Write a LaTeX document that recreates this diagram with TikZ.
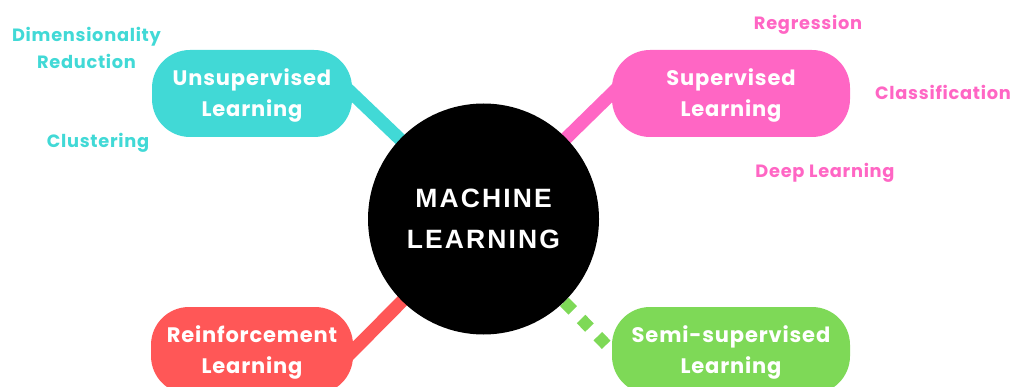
\documentclass[tikz,border=0pt]{standalone}
\usepackage{fontspec}
\newfontfamily\lblfont[LetterSpace=4]{Poppins}
\newfontfamily\mlfont[LetterSpace=8]{Liberation Sans}
\usetikzlibrary{backgrounds}
\definecolor{cyanml}{HTML}{41D9D6}
\definecolor{pinkml}{HTML}{FF66C4}
\definecolor{redml}{HTML}{FF5757}
\definecolor{greenml}{HTML}{7ED957}
\tikzset{
  box/.style={rounded corners=38pt, minimum height=87pt, inner sep=0pt},
  boxtext/.style={inner sep=0pt, anchor=base, text=white, align=center,
    font=\lblfont\bfseries\fontsize{21}{31}\selectfont},
  sub/.style={inner sep=0pt, anchor=base, font=\lblfont\bfseries\fontsize{17.8}{20}\selectfont},
  link/.style={line width=13pt, shorten <=-20pt},
  dotlink/.style={line width=12pt, dash pattern=on 12pt off 12pt, dash phase=16pt},
  core/.style={circle, fill=black, minimum size=231pt, inner sep=0pt, text=white,
    align=center, font=\mlfont\bfseries\fontsize{26.5}{41}\selectfont}
}
\begin{document}
\begin{tikzpicture}[x=1pt,y=-1pt]
\useasboundingbox (0,0) rectangle (1011,387);
\node[core] (ml) at (483.5,219) {MACHINE\\LEARNING};
\node[box, fill=cyanml, minimum width=200pt] (unsup) at (252,93.5) {};
\node[box, fill=pinkml, minimum width=238pt] (sup) at (731,93.5) {};
\node[box, fill=redml, minimum width=202pt] (rein) at (252,350.5) {};
\node[box, fill=greenml, minimum width=238pt] (semi) at (731,350.5) {};
\begin{scope}[on background layer]
  \draw[link, draw=cyanml] (unsup.east) -- (ml.center);
  \draw[link, draw=pinkml] (sup.west) -- (ml.center);
  \draw[link, draw=redml] (rein.east) -- (ml.center);
  \draw[dotlink, draw=greenml] (semi.west) -- (ml.center);
\end{scope}
\node[boxtext] (unsupT) at (252,117) {Unsupervised\\Learning};
\node[boxtext] (supT) at (731,117) {Supervised\\Learning};
\node[boxtext] (reinT) at (252,373) {Reinforcement\\Learning};
\node[boxtext] (semiT) at (731,373) {Semi-supervised\\Learning};
\node[sub, text=cyanml] (dim) at (86.5,41.7) {Dimensionality};
\node[sub, text=cyanml] (red) at (86.5,69) {Reduction};
\node[sub, text=cyanml] (clu) at (98,147.7) {Clustering};
\node[sub, text=pinkml] (reg) at (808,30) {Regression};
\node[sub, text=pinkml] (cla) at (943,100) {Classification};
\node[sub, text=pinkml] (deep) at (825,178) {Deep Learning};
\end{tikzpicture}
\end{document}
